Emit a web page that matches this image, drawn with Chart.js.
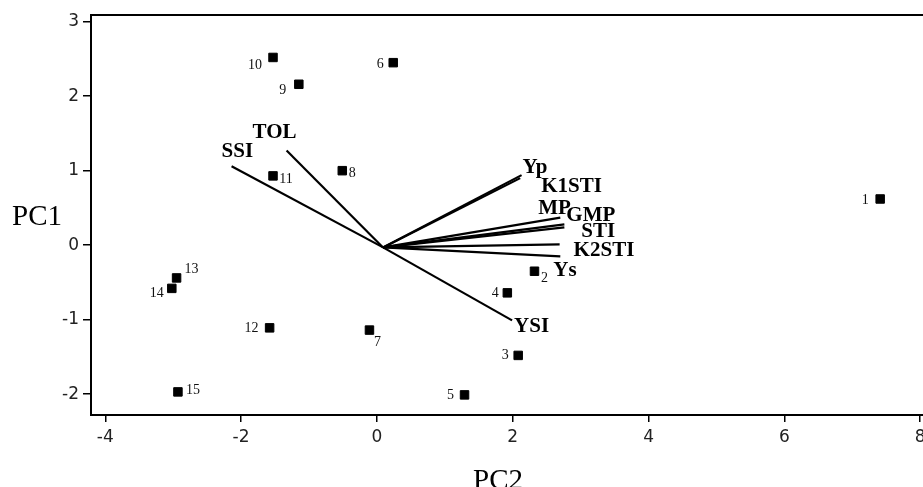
<!DOCTYPE html>
<html>
<head>
<meta charset="utf-8">
<script src="https://cdn.jsdelivr.net/npm/chart.js@4"></script>
<style>
  html, body { margin: 0; padding: 0; background: #fff; overflow: hidden; }
  #wrap { width: 923px; height: 487px; overflow: hidden; }
</style>
</head>
<body>
<div id="wrap"><canvas id="biplot" width="960" height="487"></canvas></div>
<script>
// genotype scores
const genotypes = ['1', '2', '3', '4', '5', '6', '7', '8', '9', '10', '11', '12', '13', '14', '15'];
const scoreX = [7.41, 2.32, 2.08, 1.92, 1.29, 0.24, -0.11, -0.51, -1.15, -1.53, -1.53, -1.58, -2.95, -3.02, -2.93];
const scoreY = [0.62, -0.35, -1.48, -0.64, -2.01, 2.45, -1.14, 1.00, 2.16, 2.52, 0.93, -1.11, -0.44, -0.58, -1.97];

// index vectors (loadings)
const indices = ['Yp', 'K1STI', 'MP', 'GMP', 'STI', 'K2STI', 'Ys', 'YSI', 'TOL', 'SSI'];
const loadX = [2.13, 2.11, 2.70, 2.76, 2.76, 2.69, 2.70, 1.99, -1.33, -2.14];
const loadY = [0.94, 0.90, 0.37, 0.28, 0.24, 0.01, -0.15, -1.01, 1.27, 1.06];
const origin = { x: 0.09, y: -0.03 };

const xTicks = [-4, -2, 0, 2, 4, 6, 8];
const yTicks = [-2, -1, 0, 1, 2, 3];

// label placement (pixel nudges, text centre for points, left/baseline for vectors)
const ptNudge = [[-15, 1], [10, 7], [-13, 0], [-12, 0], [-14, 0], [-13, 2], [8, 12], [10, 3],
  [-16, 6], [-18, 8], [13, 3], [-18, 0], [15, -9], [-15, 5], [15, -2]];
const vecNudge = [[1, -2], [21, 14], [-22, -4], [2, -3], [17, 10], [14, 12], [-7, 20], [2, 12], [-34, -13], [-10, -9]];

const vectorSets = indices.map((name, i) => ({
  label: name,
  data: [origin, { x: loadX[i], y: loadY[i] }],
  showLine: true,
  borderColor: '#000',
  borderWidth: 2.2,
  pointRadius: 0,
  fill: false
}));

const labelPlugin = {
  id: 'labels',
  afterDatasetsDraw(chart) {
    const { ctx, chartArea, scales } = chart;
    const sx = scales.x, sy = scales.y;
    ctx.save();
    // top frame line
    ctx.strokeStyle = '#000';
    ctx.lineWidth = 2;
    ctx.beginPath();
    ctx.moveTo(chartArea.left, chartArea.top);
    ctx.lineTo(chartArea.right, chartArea.top);
    ctx.stroke();

    ctx.fillStyle = '#111';
    ctx.font = '14px "Liberation Serif"';
    ctx.textAlign = 'center';
    ctx.textBaseline = 'middle';
    genotypes.forEach((g, i) => {
      const px = sx.getPixelForValue(scoreX[i]) + ptNudge[i][0];
      const py = sy.getPixelForValue(scoreY[i]) + ptNudge[i][1];
      ctx.fillText(g, px, py);
    });

    ctx.fillStyle = '#000';
    ctx.font = 'bold 21px "Liberation Serif"';
    ctx.textAlign = 'left';
    ctx.textBaseline = 'alphabetic';
    indices.forEach((n, i) => {
      const px = sx.getPixelForValue(loadX[i]) + vecNudge[i][0];
      const py = sy.getPixelForValue(loadY[i]) + vecNudge[i][1];
      ctx.fillText(n, px, py);
    });

    ctx.font = '29px "Liberation Serif"';
    ctx.textAlign = 'center';
    ctx.textBaseline = 'middle';
    ctx.fillText('PC1', 37, 217);
    ctx.fillText('PC2', 498, 481);
    ctx.restore();
  }
};

new Chart(document.getElementById('biplot'), {
  type: 'scatter',
  data: {
    datasets: [{
      label: 'Genotypes',
      data: scoreX.map((x, i) => ({ x, y: scoreY[i] })),
      pointStyle: 'rect',
      pointRadius: 6,
      pointBackgroundColor: '#000',
      pointBorderColor: '#000',
      pointBorderWidth: 1
    }, ...vectorSets]
  },
  options: {
    responsive: false,
    animation: false,
    devicePixelRatio: 1,
    layout: { padding: { top: 15, right: 35, left: 0, bottom: 0 } },
    plugins: { legend: { display: false }, tooltip: { enabled: false } },
    scales: {
      x: {
        type: 'linear',
        min: -4.21,
        max: 8.07,
        afterFit: s => { s.height = 72; },
        afterBuildTicks: s => { s.ticks = xTicks.map(v => ({ value: v })); },
        ticks: { color: '#222', font: { family: 'DejaVu Sans', size: 17 }, padding: 5 },
        grid: { drawOnChartArea: false, drawTicks: true, tickLength: 7, color: '#000', lineWidth: 1.5 },
        border: { display: true, color: '#000', width: 2 }
      },
      y: {
        type: 'linear',
        min: -2.28,
        max: 3.09,
        afterFit: s => { s.width = 91; },
        afterBuildTicks: s => { s.ticks = yTicks.map(v => ({ value: v })); },
        ticks: { color: '#222', font: { family: 'DejaVu Sans', size: 17 }, padding: 4 },
        grid: { drawOnChartArea: false, drawTicks: true, tickLength: 8, color: '#000', lineWidth: 1.5 },
        border: { display: true, color: '#000', width: 2 }
      }
    }
  },
  plugins: [labelPlugin]
});
</script>
</body>
</html>
